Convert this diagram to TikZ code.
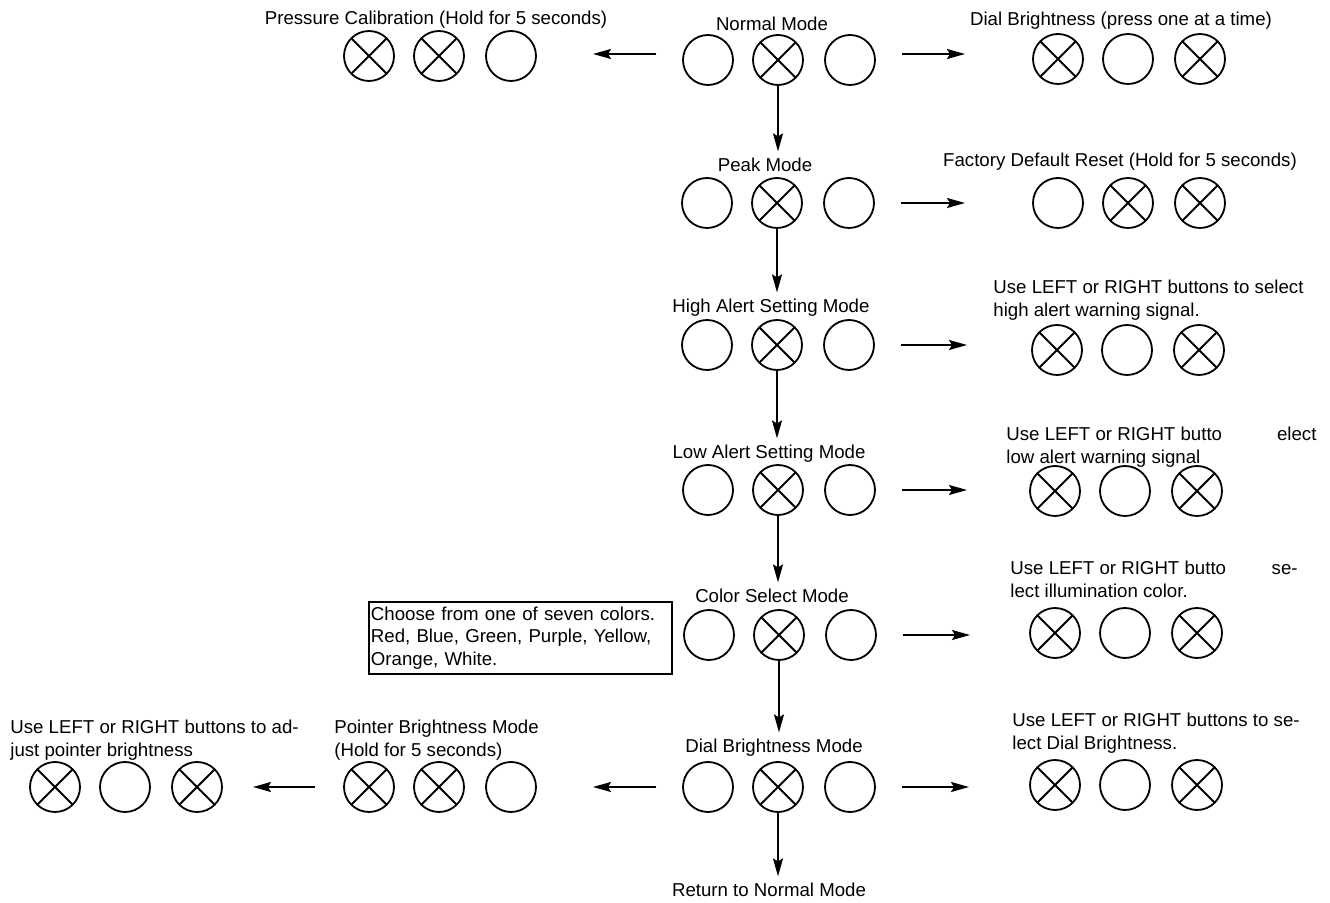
\documentclass[tikz,border=0pt]{standalone}
\usepackage{fontspec}
\setmainfont{Liberation Sans}
\usetikzlibrary{arrows.meta}
\tikzset{
  btn/.style={circle, draw, line width=0.9pt, minimum size=25pt, inner sep=0pt},
  btnx/.style={btn, path picture={\draw[line width=0.9pt]
      (path picture bounding box.north west) -- (path picture bounding box.south east)
      (path picture bounding box.south west) -- (path picture bounding box.north east);}},
  arr/.style={-{Stealth[length=9pt,width=5pt,inset=1.5pt]}, line width=0.9pt},
  lbl/.style={anchor=base},
  note/.style={anchor=north west, align=left, inner sep=0pt}
}
\newcommand{\lamprow}[6]{%
  \node[#4] (#1a) at (#2-70,#3) {};
  \node[#5] (#1b) at (#2,#3) {};
  \node[#6] (#1c) at (#2+72,#3) {};}

\begin{document}
\begin{tikzpicture}[x=0.5pt, y=-0.5pt, font=\fontsize{9.33pt}{11.3pt}\selectfont]
    \useasboundingbox (0,0) rectangle (1330,903);

    \node[lbl] (nmt) at (772,31) {Normal Mode};
    \lamprow{nm}{778}{60}{btn}{btnx}{btn}
    \node[lbl] (pct) at (436,25) {Pressure Calibration (Hold for 5 seconds)};
    \lamprow{pc}{439}{56}{btnx}{btnx}{btn}
    \node[lbl] (dbt) at (1121,26) {Dial Brightness (press one at a time)};
    \lamprow{db}{1128}{59}{btnx}{btn}{btnx}

    \node[lbl] (pkt) at (765,172) {Peak Mode};
    \lamprow{pk}{777}{203}{btn}{btnx}{btn}
    \node[lbl] (frt) at (1120,167) {Factory Default Reset (Hold for 5 seconds)};
    \lamprow{fr}{1128}{203}{btn}{btnx}{btnx}

    \node[lbl] (hat) at (771,313) {High Alert Setting Mode};
    \lamprow{ha}{777}{345}{btn}{btnx}{btn}
    \node[note] (hst) at (993,279.5) {Use LEFT or RIGHT buttons to select\\high alert warning signal.};
    \lamprow{hs}{1127}{350}{btnx}{btn}{btnx}

    \node[lbl] (lat) at (769,459) {Low Alert Setting Mode};
    \lamprow{la}{778}{490}{btn}{btnx}{btn}
    \node[note] (lst) at (1006,426.5) {Use LEFT or RIGHT butto\phantom{ns to s}elect\\low alert warning signal};
    \lamprow{ls}{1125}{491}{btnx}{btn}{btnx}

    \node[lbl] (cst) at (772,603) {Color Select Mode};
    \lamprow{cs}{779}{635}{btn}{btnx}{btn}
    \node[note] (cct) at (1010,560.5) {Use LEFT or RIGHT butto\phantom{ns to }se-\\lect illumination color.};
    \lamprow{cc}{1125}{633}{btnx}{btn}{btnx}
    \node[draw, line width=0.9pt, anchor=north west, align=left, text width=149.5pt,
          minimum height=36pt, inner sep=1pt] (clr) at (368,601)
          {Choose from one of seven colors.\\Red, Blue, Green, Purple, Yellow,\\Orange, White.};

    \node[lbl] (dmt) at (774,753) {Dial Brightness Mode};
    \lamprow{dm}{778}{787}{btn}{btnx}{btn}
    \node[note] (dst) at (1012,712.5) {Use LEFT or RIGHT buttons to se-\\lect Dial Brightness.};
    \lamprow{ds}{1125}{785}{btnx}{btn}{btnx}
    \node[note] (pbt) at (334,719.5) {Pointer Brightness Mode\\(Hold for 5 seconds)};
    \lamprow{pb}{439}{787}{btnx}{btnx}{btn}
    \node[note] (ppt) at (10,719.5) {Use LEFT or RIGHT buttons to ad-\\just pointer brightness};
    \lamprow{pp}{125}{787}{btnx}{btn}{btnx}

    \node[lbl] (rnt) at (769,897) {Return to Normal Mode};

    \draw[arr] (nmb) -- (nmb |- pkt.north);
    \draw[arr] (pkb) -- (pkb |- hat.north);
    \draw[arr] (hab) -- (hab |- lat.north);
    \draw[arr] (lab) -- (lab |- cst.north);
    \draw[arr] (csb) -- (csb |- dmt.north);
    \draw[arr] (dmb) -- (dmb |- rnt.north);

    \draw[arr, shorten <=13pt, shorten >=46.5pt] ([yshift=3pt]nmc.east) -- ([yshift=3pt]nmc.east -| dba);
    \draw[arr, shorten <=13pt, shorten >=46.5pt] (pkc.east) -- (pkc.east -| fra);
    \draw[arr, shorten <=13pt, shorten >=45pt] (hac.east) -- (hac.east -| hsa);
    \draw[arr, shorten <=13pt, shorten >=44pt] (lac.east) -- (lac.east -| lsa);
    \draw[arr, shorten <=13pt, shorten >=42.5pt] (csc.east) -- (csc.east -| cca);
    \draw[arr, shorten <=13pt, shorten >=43pt] (dmc.east) -- (dmc.east -| dsa);

    \draw[arr, shorten <=13pt, shorten >=41pt] ([yshift=3pt]nma.west) -- ([yshift=3pt]nma.west -| pcc);
    \draw[arr, shorten <=13pt, shorten >=41pt] (dma.west) -- (dma.west -| pbc);
    \draw[arr, shorten <=14pt, shorten >=28pt] (pba.west) -- (pba.west -| ppc);
\end{tikzpicture}
\end{document}
